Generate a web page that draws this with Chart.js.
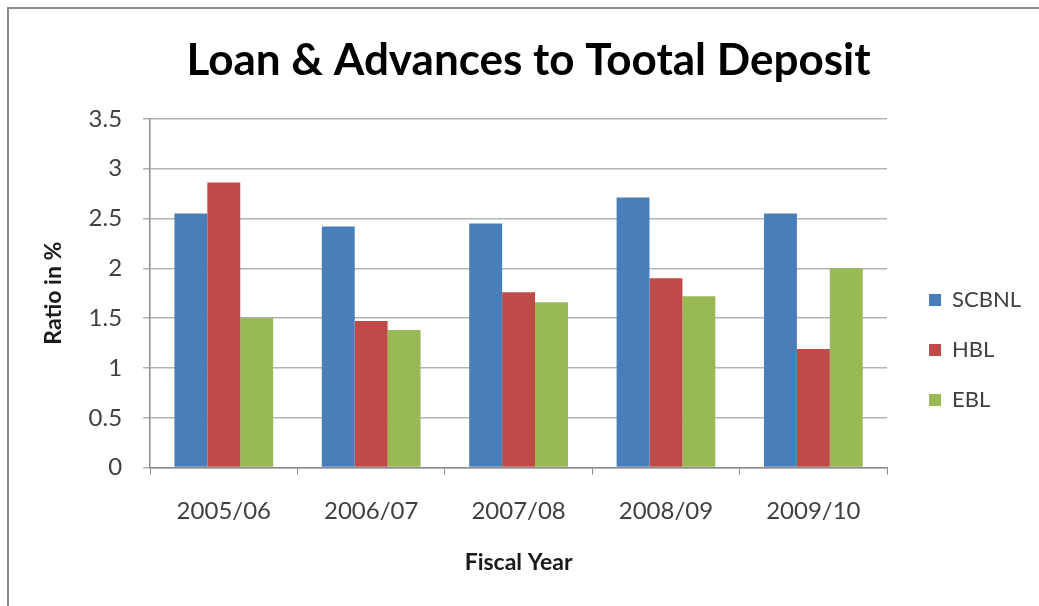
<!DOCTYPE html>
<html>
<head>
<meta charset="utf-8">
<script src="https://cdn.jsdelivr.net/npm/chart.js@4.4.1/dist/chart.umd.min.js"></script>
<style>
html,body{margin:0;padding:0;background:#fff;overflow:hidden}
#frame{position:absolute;left:7px;top:7px;width:1100px;height:700px;border-left:2px solid #8c8c8c;border-top:2px solid #8c8c8c;pointer-events:none}
#wrap{position:absolute;left:0;top:0;width:1039px;height:606px}
</style>
</head>
<body>
<div id="wrap"><canvas id="grafik"></canvas></div>
<div id="frame"></div>
<script>
let tahun=["2005/06","2006/07","2007/08","2008/09","2009/10"]
let scbnl=[2.55,2.42,2.45,2.71,2.55]
let hbl=[2.86,1.47,1.76,1.90,1.19]
let ebl=[1.50,1.38,1.66,1.72,2.00]

let fontUtama="Lato"

// geser legenda ke bawah & kanan supaya sejajar tengah seluruh grafik
let geserLegend={
id:"geserLegend",
afterLayout(chart){
let lg=chart.legend
if(!lg)return
lg.top+=62
lg.bottom+=62
lg.left+=14
lg.right+=14
}
}

let ctx=document.getElementById("grafik")

new Chart(ctx,{
type:"bar",
data:{
labels:tahun,
datasets:[
{label:"SCBNL",data:scbnl,backgroundColor:"#4a7ebb"},
{label:"HBL",data:hbl,backgroundColor:"#be4b48"},
{label:"EBL",data:ebl,backgroundColor:"#98b954"}
]
},
options:{
responsive:true,
maintainAspectRatio:false,
animation:false,
layout:{padding:{left:40,right:22,top:0,bottom:30}},
datasets:{bar:{categoryPercentage:0.67,barPercentage:1}},
plugins:{
title:{
display:true,
text:"Loan & Advances to Tootal Deposit",
color:"#000",
font:{family:fontUtama,size:44,weight:"bold"},
padding:{top:34,bottom:32}
},
legend:{
position:"right",
labels:{
color:"#404040",
font:{family:fontUtama,size:22},
boxWidth:12,
boxHeight:12,
padding:28
}
},
tooltip:{enabled:false}
},
scales:{
x:{
grid:{display:true,drawOnChartArea:false,drawTicks:true,tickLength:7,color:"#8c8c8c",offset:true},
border:{display:true,color:"#8c8c8c",width:1.5},
ticks:{color:"#404040",font:{family:fontUtama,size:24},padding:22},
title:{display:true,text:"Fiscal Year",color:"#1a1a1a",font:{family:fontUtama,size:23,weight:"bold"},padding:{top:1,bottom:0}}
},
y:{
min:0,
max:3.5,
ticks:{
stepSize:0.5,
color:"#404040",
font:{family:fontUtama,size:24},
padding:21,
callback:v=>String(v)
},
grid:{color:"#b4b4b4",lineWidth:1.5,tickLength:7},
border:{display:true,color:"#8c8c8c",width:1.5},
title:{display:true,text:"Ratio in %",color:"#1a1a1a",font:{family:fontUtama,size:23,weight:"bold"},padding:{top:0,bottom:0}}
}
}
},
plugins:[geserLegend]
})
</script>
</body>
</html>
